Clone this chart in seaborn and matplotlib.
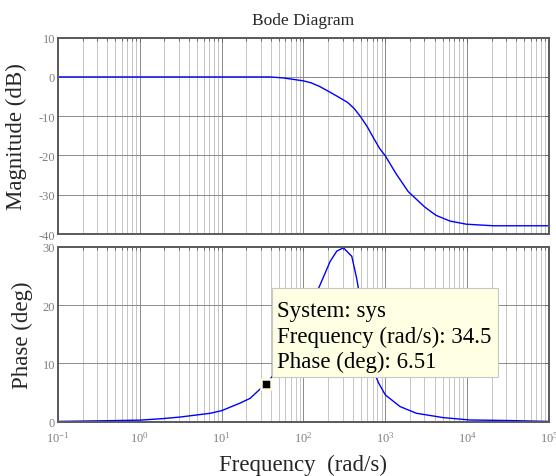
import numpy as np
import pandas as pd
import matplotlib
matplotlib.use("Agg")
import matplotlib.pyplot as plt
import seaborn as sns
from matplotlib.ticker import LogLocator, FixedLocator, NullFormatter
from matplotlib.patches import Rectangle

# ---- data ----
mag_freq = [0.1, 1, 10, 38.9, 57.0, 100, 123.9, 156.7, 207.5, 274.8, 346.7, 416.9, 501.2,
            602.6, 724.4, 851.1, 1000, 1349, 1905, 3020, 4169, 6166, 9772, 20893, 100000]
mag_db = [0.0, 0.0, 0.0, 0.0, -0.25, -1.0, -1.5, -2.4, -3.8, -5.25, -6.5, -8.05, -10.2,
          -12.7, -15.7, -18.2, -20.1, -24.6, -29.2, -33.1, -35.25, -36.7, -37.5, -37.9, -37.9]

ph_freq = [0.1, 0.316, 1, 1.86, 3.09, 7.21, 10, 16.8, 22.2, 29.5, 34.5, 50.1, 63.1, 79.4,
           100, 125.9, 159.6, 211.3, 255.3, 307.6, 389.0, 446.7, 501.2, 562.3, 631.0, 707.9,
           824.1, 1000, 1514, 2399, 5129, 10715, 33113, 100000]
ph_deg = [0.05, 0.15, 0.27, 0.52, 0.8, 1.44, 1.9, 3.2, 4.0, 5.6, 6.51, 9.0, 11.3, 14.0,
          17.0, 20.3, 23.5, 27.5, 29.3, 29.86, 28.4, 24.6, 20.5, 16.0, 12.0, 9.0,
          6.7, 4.6, 2.6, 1.45, 0.7, 0.3, 0.2, 0.05]

title = "Bode Diagram"
xlabel = "Frequency  (rad/s)"
ylabel_mag = "Magnitude (dB)"
ylabel_ph = "Phase (deg)"
mag_ticks = [-40, -30, -20, -10, 0, 10]
ph_ticks = [0, 10, 20, 30]
dec_exps = [-1, 0, 1, 2, 3, 4, 5]
dt_freq, dt_phase = 34.5, 6.51
dt_lines = ["System: sys", "Frequency (rad/s): 34.5", "Phase (deg): 6.51"]

sns.set_theme(style="white")
plt.rcParams["font.family"] = ["Liberation Serif", "DejaVu Serif"]
plt.rcParams["mathtext.fontset"] = "custom"
plt.rcParams["mathtext.rm"] = "Liberation Serif"
plt.rcParams["mathtext.it"] = "Liberation Serif"

fig = plt.figure(figsize=(5.56, 4.77), dpi=100)
ax1 = fig.add_axes([0.1043, 0.5073, 0.8831, 0.4116])
ax2 = fig.add_axes([0.1043, 0.1138, 0.8831, 0.3663])

dfm = pd.DataFrame({"f": mag_freq, "m": mag_db})
dfp = pd.DataFrame({"f": ph_freq, "p": ph_deg})
sns.lineplot(data=dfm, x="f", y="m", ax=ax1, color="#0000ff", lw=1.0)
sns.lineplot(data=dfp, x="f", y="p", ax=ax2, color="#0000ff", lw=1.0)

spine_c = "#5a5a5a"
tick_c = "#808080"
for ax in (ax1, ax2):
    ax.set_xscale("log")
    ax.set_xlim(0.1, 1e5)
    ax.xaxis.set_major_locator(FixedLocator([10.0 ** e for e in dec_exps]))
    ax.xaxis.set_minor_locator(LogLocator(base=10, subs=np.arange(2, 10), numticks=20))
    ax.xaxis.set_minor_formatter(NullFormatter())
    ax.grid(True, which="major", color="#8a8a8a", lw=0.7, ls="-")
    ax.grid(True, which="minor", axis="x", color="#bcbcbc", lw=0.6, ls="-")
    ax.tick_params(which="both", direction="in", top=True, right=True, colors=spine_c,
                   labelcolor=tick_c, labelsize=9, length=3, width=0.6, pad=2)
    ax.tick_params(which="minor", length=2)
    ax.tick_params(axis="x", pad=6)
    for s in ax.spines.values():
        s.set_color(spine_c)
        s.set_linewidth(1.4)
    ax.set_xlabel("")

ax1.set_ylim(-40, 10)
ax1.set_yticks(mag_ticks)
ax1.set_yticklabels([str(t) for t in mag_ticks])
ax1.set_xticklabels([])
ax1.set_ylabel(ylabel_mag, fontsize=16.5)
ax1.yaxis.set_label_coords(-0.063, 0.5)
ax1.set_title(title, fontsize=12.5, pad=10)

ax2.set_ylim(0, 30)
ax2.set_yticks(ph_ticks)
ax2.set_yticklabels([str(t) for t in ph_ticks])
ax2.set_xticklabels([f"10$^{{{e}}}$" for e in dec_exps])
ax2.set_ylabel(ylabel_ph, fontsize=16.5)
ax2.yaxis.set_label_coords(-0.051, 0.5)
ax2.set_xlabel(xlabel, fontsize=16.5)
ax2.xaxis.set_label_coords(0.5, -0.185)

# data tip
ax2.plot([dt_freq], [dt_phase], marker="s", ms=7, color="black",
         mec="#fffde0", mew=1.8, zorder=6, clip_on=False)
ax2.add_patch(Rectangle((0.436, 0.256), 0.460, 0.509, transform=ax2.transAxes,
                        fc="#ffffe3", ec="#c8c8c8", lw=0.8, zorder=7))
for yy, line in zip([0.6066, 0.4588, 0.3111], dt_lines):
    ax2.text(0.446, yy, line, transform=ax2.transAxes, fontsize=16.5,
             va="baseline", ha="left", zorder=8, color="black")

fig.savefig("out.png", dpi=100)
